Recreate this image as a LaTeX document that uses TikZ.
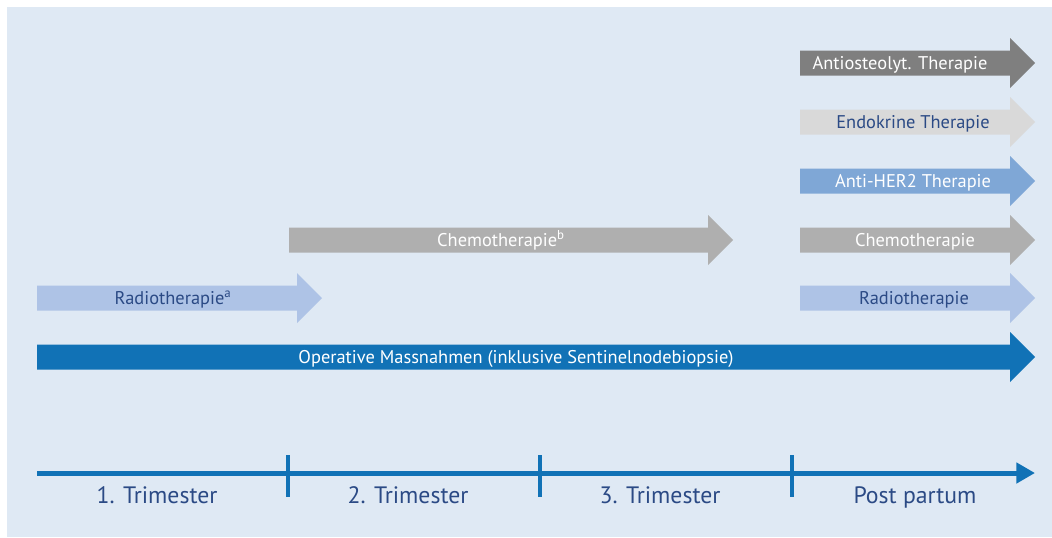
\documentclass[tikz,border=0pt]{standalone}
\usepackage{fontspec}
\setmainfont{PT Sans}
\usetikzlibrary{arrows.meta}
\definecolor{bgblue}{HTML}{DFE9F4}
\definecolor{opblue}{HTML}{1172B6}
\definecolor{txtblue}{HTML}{2B4A85}
\definecolor{herblue}{HTML}{7FA7D6}
\definecolor{radblue}{HTML}{AEC3E6}
\definecolor{darkgrey}{HTML}{7F7F7F}
\definecolor{midgrey}{HTML}{AFAFAF}
\definecolor{lightgrey}{HTML}{D9D9D9}
\tikzstyle{lbl}=[inner sep=0, anchor=base, font=\fontsize{13.8}{16}\selectfont]
\tikzstyle{onlight}=[lbl, text=txtblue]
\tikzstyle{ondark}=[lbl, text=white]
\tikzstyle{tri}=[inner sep=0, anchor=base, text=txtblue, font=\fontsize{17.8}{20}\selectfont]
% therapy arrow: name, start, tip, row, fill, label style, label x, label
\newcommand{\therarrow}[8]{%
  \fill[#5] (#2,#4-12.5) -- (#3-25,#4-12.5) -- (#3-25,#4-25) -- (#3,#4)
            -- (#3-25,#4+25) -- (#3-25,#4+12.5) -- (#2,#4+12.5) -- cycle;
  \node[#6] (#1) at (#7,#4+6.5) {#8};}
\begin{document}
\begin{tikzpicture}[x=0.75pt, y=-0.75pt]
    \useasboundingbox (0,0) rectangle (1052,537);
    \fill[bgblue] (7,7) rectangle (1052,537);
    % post partum column
    \therarrow{osteo}{800}{1035}{63}{darkgrey}{ondark}{900}{Antiosteolyt. Therapie}
    \therarrow{endo}{800}{1035}{122}{lightgrey}{onlight}{913}{Endokrine Therapie}
    \therarrow{her}{800}{1035}{181}{herblue}{ondark}{913}{Anti-HER2 Therapie}
    \therarrow{chemopp}{800}{1035}{240}{midgrey}{ondark}{915}{Chemotherapie}
    \therarrow{radpp}{800}{1035}{298}{radblue}{onlight}{914}{Radiotherapie}
    % during pregnancy
    \therarrow{chemo}{289}{733}{240}{midgrey}{ondark}{501}{Chemotherapie\textsuperscript{b}}
    \therarrow{rad}{37}{322}{298}{radblue}{onlight}{173}{Radiotherapie\textsuperscript{a}}
    \therarrow{op}{37}{1035}{357}{opblue}{ondark}{516}{Operative Massnahmen (inklusive Sentinelnodebiopsie)}
    % time axis
    \coordinate (t0) at (37,473);
    \coordinate (tend) at (1035,473);
    \draw[opblue, line width=3.75pt, -{Triangle[length=14pt, width=15pt]}] (t0) -- (tend);
    \foreach \x/\n in {288/a, 540/b, 792/c} {
        \coordinate (k\n) at (\x,455);
        \draw[opblue, line width=3pt] (k\n) -- ++(0,42);
    }
    \node[tri] (tri1) at (157,503) {1. Trimester};
    \node[tri] (tri2) at (408,503) {2. Trimester};
    \node[tri] (tri3) at (660,503) {3. Trimester};
    \node[tri] (pp) at (915,503) {Post partum};
\end{tikzpicture}
\end{document}
